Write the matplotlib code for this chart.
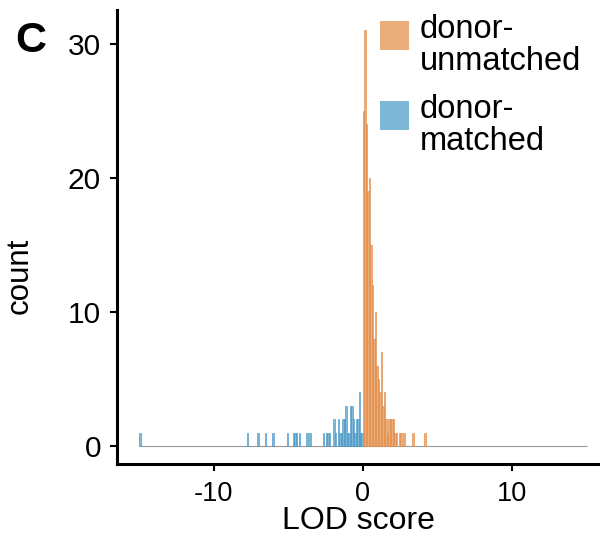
import numpy as np
import matplotlib
matplotlib.use("Agg")
import matplotlib.pyplot as plt
from matplotlib.patches import Rectangle

plt.rcParams['font.family'] = ['Liberation Sans', 'DejaVu Sans']

# histogram bins (left edge of each 0.1-wide LOD bin) and counts
bin_width = 0.1
bin_range = [-15.0, 15.0]

matched_lod = [-15.0, -7.8, -7.1, -6.6, -6.1, -5.1, -4.7, -4.6, -4.5, -4.3,
               -3.8, -3.6, -2.7, -2.5, -2.4, -2.3, -2.0, -1.9, -1.7, -1.6,
               -1.5, -1.4, -1.3, -1.2, -1.1, -1.0, -0.9, -0.8, -0.7, -0.6,
               -0.5, -0.4, -0.3, -0.2, -0.1]
matched_count = [1, 1, 1, 1, 1, 1, 1, 1, 1, 1,
                 1, 1, 1, 1, 1, 1, 2, 1, 2, 1,
                 1, 2, 2, 3, 1, 1, 3, 3, 2, 1,
                 2, 2, 4, 1, 1]

unmatched_lod = [0.0, 0.1, 0.2, 0.3, 0.4, 0.5, 0.6, 0.7, 0.8, 0.9,
                 1.0, 1.1, 1.2, 1.3, 1.4, 1.5, 1.6, 1.7, 1.8, 1.9,
                 2.0, 2.1, 2.2, 2.4, 2.5, 2.7, 3.3, 4.1]
unmatched_count = [25, 31, 24, 19, 20, 15, 12, 8, 10, 6,
                   5, 4, 7, 3, 4, 2, 1, 2, 2, 2,
                   2, 1, 1, 1, 1, 1, 1, 1]

group_lines = [["donor-", "unmatched"], ["donor-", "matched"]]
orange_fill, orange_edge = "#EAAE7A", "#E0843F"
blue_fill, blue_edge = "#7FB7D7", "#3F90C4"

W, H = 600, 538
fig = plt.figure(figsize=(W / 100, H / 100), dpi=100)
ax = fig.add_axes([117 / W, 1 - 464 / H, 483 / W, 454 / H])

# empty bins drawn as a thin grey baseline, as in the original
ax.hlines(0, bin_range[0], bin_range[1], color="#999999", lw=0.8, zorder=1)

ax.bar(matched_lod, matched_count, width=bin_width, align="edge",
       color=blue_fill, edgecolor=blue_edge, linewidth=0.4, zorder=2)
ax.bar(unmatched_lod, unmatched_count, width=bin_width, align="edge",
       color=orange_fill, edgecolor=orange_edge, linewidth=0.4, zorder=2)

ax.set_xlim(-16.5, 15.9)
ax.set_ylim(-1.34, 32.5)
ax.set_xticks([-10, 0, 10])
ax.set_xticklabels(["-10", "0", "10"])
ax.set_yticks([0, 10, 20, 30])

for side in ["top", "right"]:
    ax.spines[side].set_visible(False)
for side in ["left", "bottom"]:
    ax.spines[side].set_linewidth(2.2)
ax.tick_params(width=1.5, length=5, colors="black")
ax.tick_params(axis="x", labelsize=19.5, pad=7)
ax.tick_params(axis="y", labelsize=21.5, pad=6.5)

ax.set_xlabel("LOD score", fontsize=23)
ax.set_ylabel("count", fontsize=22.5)
ax.xaxis.set_label_coords((358 - 117) / 483, -(506 - 464) / 454)
ax.yaxis.set_label_coords((35 - 117) / 483, (464 - 276) / 454)

fig.text(15 / W, 1 - 52 / H, "C", fontsize=31, fontweight="bold", va="baseline")

# legend drawn by hand so the key sits beside the first text line
for i, (lines, col) in enumerate(zip(group_lines, [orange_fill, blue_fill])):
    base = 38 + i * 80
    fig.patches.append(Rectangle((380 / W, 1 - (base + 12) / H), 29 / W, 29 / H,
                                 transform=fig.transFigure, facecolor=col,
                                 edgecolor="none"))
    for j, line in enumerate(lines):
        fig.text(420 / W, 1 - (base + 32 * j) / H, line, fontsize=23.5,
                 va="baseline", ha="left")

fig.savefig("out.png", dpi=100)
